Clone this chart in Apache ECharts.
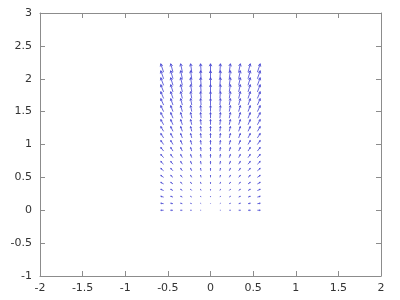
<!DOCTYPE html>
<html>
<head>
<meta charset="utf-8">
<script src="https://cdn.jsdelivr.net/npm/echarts@6/dist/echarts.min.js"></script>
<style>html,body{margin:0;padding:0;background:#fff;}#c{width:400px;height:300px;}</style>
</head>
<body>
<div id="c"></div>
<script>
// grid positions of arrow tails
const xPositions = [-0.55, -0.44, -0.33, -0.22, -0.11, 0, 0.11, 0.22, 0.33, 0.44, 0.55];
const yPositions = [0, 0.1, 0.2, 0.3, 0.4, 0.5, 0.6, 0.7, 0.8, 0.9, 1.0, 1.1, 1.2, 1.3, 1.4, 1.5, 1.6, 1.7, 1.8, 1.9, 2.0, 2.1];
// vector components: horizontal component per column, vertical component per row
const uByColumn = [-0.55, -0.44, -0.33, -0.22, -0.11, 0, 0.11, 0.22, 0.33, 0.44, 0.55];
const vByRow = [0, 0.1, 0.2, 0.3, 0.4, 0.5, 0.6, 0.7, 0.8, 0.9, 1.0, 1.1, 1.2, 1.3, 1.4, 1.5, 1.6, 1.7, 1.8, 1.9, 2.0, 2.1];
// axis tick labels
const xTicks = [-2, -1.5, -1, -0.5, 0, 0.5, 1, 1.5, 2];
const yTicks = [-1, -0.5, 0, 0.5, 1, 1.5, 2, 2.5, 3];

const arrowScale = 0.061;

const vectors = [];
for (let j = 0; j < yPositions.length; j++) {
  for (let i = 0; i < xPositions.length; i++) {
    const u = uByColumn[i], v = vByRow[j];
    if (u === 0 && v === 0) continue;
    vectors.push([xPositions[i], yPositions[j], u, v]);
  }
}

const axisColor = '#8c8c8c';
const labelStyle = { color: '#333', fontFamily: 'DejaVu Sans', fontSize: 11 };

function axisCommon(extra) {
  return Object.assign({
    type: 'value', interval: 0.5,
    axisLine: { show: true, onZero: false, lineStyle: { color: axisColor } },
    axisTick: { show: true, inside: true, length: 5, lineStyle: { color: axisColor } },
    splitLine: { show: false }
  }, extra);
}

const chart = echarts.init(document.getElementById('c'), null, { renderer: 'canvas' });
chart.setOption({
  animation: false,
  backgroundColor: '#fff',
  grid: { left: 40, right: 19, top: 13, bottom: 24, containLabel: false },
  xAxis: [
    axisCommon({ position: 'bottom', min: xTicks[0], max: xTicks[xTicks.length - 1],
      axisLabel: Object.assign({ margin: 7 }, labelStyle) }),
    axisCommon({ position: 'top', min: xTicks[0], max: xTicks[xTicks.length - 1],
      axisLabel: { show: false } })
  ],
  yAxis: [
    axisCommon({ position: 'left', min: yTicks[0], max: yTicks[yTicks.length - 1],
      axisLabel: Object.assign({ margin: 8 }, labelStyle) }),
    axisCommon({ position: 'right', min: yTicks[0], max: yTicks[yTicks.length - 1],
      axisLabel: { show: false } })
  ],
  series: [{
    type: 'custom',
    xAxisIndex: 0, yAxisIndex: 0,
    data: vectors,
    renderItem: function (params, api) {
      const x = api.value(0), y = api.value(1), u = api.value(2), v = api.value(3);
      const p0 = api.coord([x, y]);
      const p1 = api.coord([x + arrowScale * u, y + arrowScale * v]);
      const dx = p1[0] - p0[0], dy = p1[1] - p0[1];
      const L = Math.sqrt(dx * dx + dy * dy);
      const ang = Math.atan2(dy, dx);
      const h = Math.min(L * 0.33, 3), a = 0.5;
      const l1 = [p1[0] - h * Math.cos(ang - a), p1[1] - h * Math.sin(ang - a)];
      const l2 = [p1[0] - h * Math.cos(ang + a), p1[1] - h * Math.sin(ang + a)];
      const style = { stroke: '#4040d0', lineWidth: 0.8, fill: null };
      return {
        type: 'group',
        children: [
          { type: 'line', shape: { x1: p0[0], y1: p0[1], x2: p1[0], y2: p1[1] }, style: style },
          { type: 'polyline', shape: { points: [l1, p1, l2] }, style: style }
        ]
      };
    }
  }]
});
</script>
</body>
</html>
